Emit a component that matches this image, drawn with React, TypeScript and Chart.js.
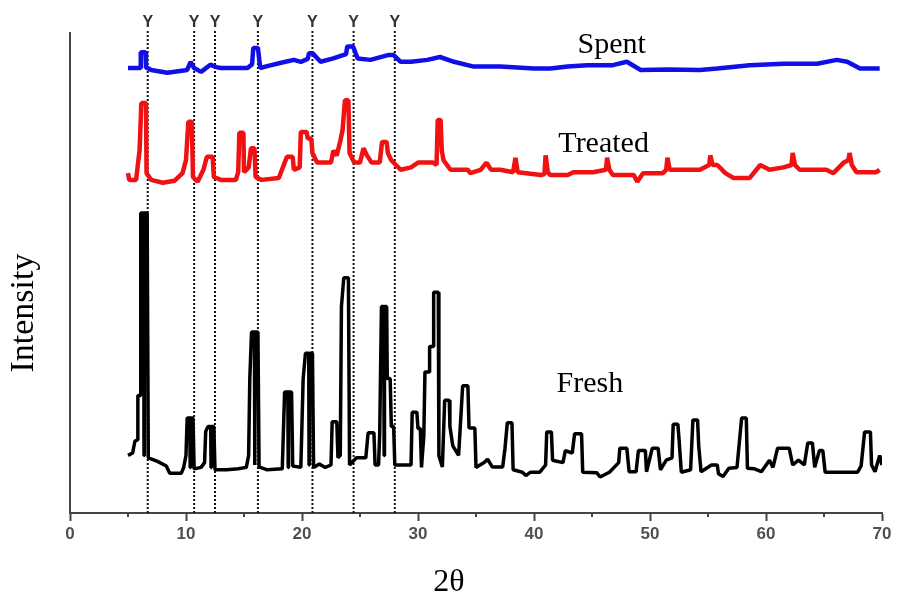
import React, { useEffect, useRef } from 'react';
import { Chart, registerables } from 'chart.js';

Chart.register(...registerables);

// ---- Data (2θ in degrees, intensity in arbitrary offset units) ----
const freshTheta = [
  5.0, 5.4, 5.6, 5.8, 5.85, 6.05, 6.1, 6.35, 6.38, 6.41, 6.65, 6.75, 7.5, 8.3, 8.6, 9.6, 9.8, 10.0, 10.1,
  10.33, 10.36, 10.39, 10.6, 10.7, 11.3, 11.6, 11.7, 11.9, 12.13, 12.16, 12.19, 12.4, 12.5, 13.5, 14.5,
  15.2, 15.4, 15.5, 15.65, 15.9, 15.93, 15.96, 16.2, 16.3, 17.0, 18.3, 18.5, 18.78, 18.81, 18.84, 19.1,
  19.2, 19.9, 20.1, 20.3, 20.58, 20.61, 20.64, 20.9, 21.0, 21.5, 22.0, 22.5, 22.6, 23.0, 23.1, 23.3,
  23.4, 23.6, 24.0, 24.1, 24.7, 25.5, 25.7, 26.2, 26.3, 26.6, 26.7, 26.85, 27.05, 27.08, 27.11, 27.3,
  27.35, 27.6, 27.7, 27.9, 28.0, 29.4, 29.5, 29.9, 30.0, 30.2, 30.3, 30.5, 30.6, 30.95, 31.0, 31.3,
  31.35, 31.75, 31.8, 32.1, 32.3, 32.7, 32.75, 33.0, 33.5, 33.85, 34.3, 34.4, 34.9, 35.0, 35.7, 36.0,
  36.4, 37.3, 37.5, 37.7, 38.1, 38.2, 39.0, 39.3, 39.7, 40.5, 41.0, 41.1, 41.5, 41.6, 42.5, 42.7,
  43.3, 43.5, 44.1, 44.2, 45.4, 45.7, 46.5, 47.3, 47.4, 48.0, 48.2, 48.8, 49.0, 49.6, 49.7, 50.2,
  50.7, 50.9, 51.4, 51.9, 52.0, 52.4, 52.5, 52.7, 53.5, 53.7, 54.1, 54.2, 54.4, 55.3, 55.8, 55.9,
  56.3, 56.8, 57.5, 57.9, 58.3, 58.4, 59.0, 59.6, 60.3, 60.6, 61.0, 62.0, 62.3, 62.8, 63.3, 63.6,
  64.0, 64.2, 64.6, 64.9, 65.1, 67.9, 68.2, 68.5, 69.0, 69.1, 69.4, 69.8, 70.0,
];
const freshIntensity = [
  12.0, 12.5, 15.0, 15.2, 24.5, 24.5, 62.5, 62.5, 12.0, 62.5, 62.5, 11.5, 10.8, 9.8, 8.3, 8.3, 9.5, 12.0, 19.8,
  19.8, 9.5, 19.8, 19.8, 9.2, 9.5, 10.5, 17.0, 18.0, 18.0, 9.5, 18.0, 18.0, 9.0, 9.0, 9.2,
  9.5, 12.0, 28.0, 37.7, 37.7, 10.0, 37.7, 37.7, 9.6, 9.0, 9.2, 25.2, 25.2, 9.5, 25.2, 25.2,
  9.8, 9.5, 28.0, 33.3, 33.3, 10.0, 33.3, 33.3, 9.5, 10.2, 9.5, 10.0, 19.0, 19.0, 11.5, 12.0,
  43.0, 49.0, 49.0, 10.0, 11.5, 11.5, 16.7, 16.7, 10.0, 10.0, 16.7, 43.0, 43.0, 12.0, 43.0, 43.0,
  28.0, 28.0, 18.0, 18.0, 10.0, 10.0, 21.0, 21.0, 17.6, 17.6, 9.5, 16.0, 29.4, 29.4, 34.7, 34.7,
  46.0, 46.0, 12.0, 9.6, 23.5, 23.5, 18.0, 14.0, 12.0, 26.5, 26.5, 17.7, 17.7, 9.5, 10.5, 11.2,
  9.6, 9.6, 13.5, 18.8, 18.8, 9.0, 8.5, 7.8, 8.5, 8.5, 10.0, 16.9, 16.9, 11.0, 10.5, 13.0,
  12.5, 16.5, 16.5, 8.5, 8.4, 7.5, 8.5, 10.5, 13.5, 13.5, 8.6, 8.6, 13.0, 13.0, 8.6, 13.5,
  13.5, 9.0, 11.0, 11.5, 18.5, 18.5, 15.5, 8.5, 9.0, 19.4, 19.4, 14.0, 8.6, 10.0, 10.0, 8.2,
  7.6, 9.3, 9.5, 19.8, 19.8, 9.3, 9.2, 8.6, 11.0, 9.5, 13.5, 13.5, 10.0, 11.0, 10.0, 14.6,
  14.6, 9.5, 13.0, 13.0, 8.5, 8.5, 9.8, 16.9, 16.9, 10.0, 8.6, 12.0, 10.0,
];

const treatedTheta = [
  5.0, 5.1, 5.7, 5.8, 6.0, 6.15, 6.55, 6.6, 7.0, 8.0, 9.0, 9.7, 10.0, 10.2, 10.5, 10.6, 11.0, 11.5,
  11.8, 12.3, 12.4, 13.0, 14.3, 14.5, 14.6, 14.95, 15.0, 15.4, 15.6, 15.9, 16.0, 16.5, 18.0, 18.7,
  19.2, 19.3, 19.8, 19.9, 20.4, 20.5, 20.8, 20.9, 21.3, 22.5, 22.7, 23.0, 23.3, 23.5, 23.7, 24.0,
  24.1, 24.5, 25.0, 25.3, 25.6, 26.0, 26.7, 26.9, 27.3, 27.4, 27.7, 28.5, 29.4, 30.0, 31.3, 31.6,
  31.7, 31.95, 32.05, 32.2, 32.8, 34.3, 34.5, 35.4, 35.9, 36.3, 37.1, 38.2, 38.4, 38.6, 40.6, 40.9,
  41.0, 41.2, 41.4, 42.9, 43.4, 45.1, 46.2, 46.3, 46.5, 46.8, 48.6, 48.9, 49.4, 51.1, 51.4, 51.5,
  51.7, 52.0, 54.3, 55.1, 55.2, 55.4, 55.8, 56.5, 57.2, 58.6, 59.5, 60.3, 61.5, 62.2, 62.3, 62.5,
  62.9, 65.2, 65.8, 66.7, 67.1, 67.2, 67.4, 67.8, 69.5, 69.8,
];
const treatedIntensity = [
  70.8, 69.4, 69.4, 71.5, 75.6, 85.4, 85.4, 70.8, 69.4, 68.8, 69.2, 70.8, 73.5, 81.5, 81.5, 70.0, 69.0, 71.5,
  74.2, 74.2, 70.0, 69.4, 69.4, 71.0, 79.2, 79.2, 71.0, 72.0, 76.0, 76.0, 70.0, 69.4, 69.8, 74.2,
  74.2, 71.5, 72.0, 79.4, 79.4, 78.0, 78.0, 75.0, 73.0, 73.0, 75.5, 74.5, 77.5, 79.8, 86.0, 86.0,
  75.0, 73.0, 73.0, 76.0, 74.5, 73.0, 73.0, 77.3, 77.3, 75.0, 73.5, 71.5, 72.0, 73.0, 73.0, 72.5,
  81.9, 81.9, 75.5, 73.5, 71.5, 71.5, 70.8, 71.5, 73.0, 71.5, 71.5, 71.0, 74.0, 71.0, 70.4, 70.6,
  74.5, 71.0, 70.4, 70.4, 71.0, 71.0, 71.5, 74.0, 71.5, 70.4, 70.4, 69.0, 70.8, 70.8, 71.5, 74.0,
  71.5, 71.5, 71.5, 72.5, 74.5, 72.5, 72.5, 70.8, 69.8, 69.8, 72.5, 71.5, 72.0, 72.5, 75.0, 72.5,
  71.5, 71.5, 70.8, 73.0, 73.5, 75.0, 72.5, 71.0, 71.0, 71.5,
];

const spentTheta = [
  5.0, 6.05, 6.1, 6.5, 6.55, 6.7, 7.0, 8.4, 10.1, 10.4, 10.7, 11.3, 12.1, 12.6, 13.0, 15.3, 15.7,
  15.8, 16.2, 16.4, 17.0, 18.2, 19.3, 19.9, 20.5, 20.6, 20.9, 21.6, 22.7, 23.8, 23.9, 24.4, 24.8,
  25.9, 27.4, 27.9, 28.5, 29.4, 30.8, 31.9, 33.1, 34.8, 37.1, 40.0, 41.4, 42.9, 44.6, 46.8, 48.0,
  49.2, 51.5, 54.3, 55.8, 58.6, 61.5, 64.4, 66.1, 67.0, 68.1, 69.8,
];
const spentIntensity = [
  92.7, 92.7, 96.0, 96.0, 92.7, 92.7, 92.3, 91.7, 92.3, 94.0, 92.7, 91.9, 93.4, 92.9, 92.7, 92.7, 93.5,
  96.9, 96.9, 92.7, 93.1, 93.8, 94.4, 94.0, 94.6, 95.8, 95.8, 94.0, 94.7, 95.6, 97.2, 97.2, 94.7,
  94.4, 95.4, 95.4, 94.0, 94.0, 94.4, 95.0, 94.0, 93.0, 93.0, 92.6, 92.6, 93.0, 93.3, 93.3, 94.0,
  92.3, 92.4, 92.3, 92.6, 93.3, 93.6, 93.6, 94.4, 94.0, 92.6, 92.6,
];

// reference reflections (2θ) marked with "Y"
const markerTheta = [6.7, 10.7, 12.5, 16.2, 20.9, 24.45, 28.0];

const xMin = 0;
const xMax = 70;
const xStep = 5;
const xLabelStep = 10;

const seriesNames = ['Spent', 'Treated', 'Fresh'];

function toPoints(xs: number[], ys: number[]) {
  return xs.map((x, i) => ({ x, y: ys[i] }));
}

const SERIF = '"Liberation Serif", "Times New Roman", serif';

const annotationPlugin = {
  id: 'xrdAnnotations',
  afterDraw(chart: any) {
    const { ctx, scales, chartArea } = chart;
    const x = scales.x;
    const y = scales.y;
    ctx.save();
    // minor (unlabelled) ticks: shorter
    ctx.strokeStyle = '#444';
    ctx.lineWidth = 2;
    for (let v = xMin + xStep; v < xMax; v += xStep) {
      if (v % xLabelStep === 0) continue;
      const px = Math.round(x.getPixelForValue(v));
      ctx.beginPath();
      ctx.moveTo(px, chartArea.bottom);
      ctx.lineTo(px, chartArea.bottom + 4);
      ctx.stroke();
    }
    // Y markers above the reference lines
    ctx.fillStyle = '#333';
    ctx.font = 'bold 16px "Liberation Sans", Arial, sans-serif';
    ctx.textAlign = 'center';
    ctx.textBaseline = 'alphabetic';
    markerTheta.forEach((t) => {
      ctx.fillText('Y', x.getPixelForValue(t), 27);
    });
    // series labels
    ctx.fillStyle = '#000';
    ctx.font = '30px ' + SERIF;
    ctx.textAlign = 'left';
    const labelPos: [number, number][] = [
      [43.75, 95.8],
      [42.1, 75.2],
      [41.95, 25.2],
    ];
    seriesNames.forEach((name, i) => {
      ctx.fillText(name, x.getPixelForValue(labelPos[i][0]), y.getPixelForValue(labelPos[i][1]));
    });
    // axis titles
    ctx.textAlign = 'center';
    ctx.font = '32px ' + SERIF;
    ctx.fillText('2θ', 449, 591);
    ctx.save();
    ctx.translate(33, 313);
    ctx.rotate(-Math.PI / 2);
    ctx.font = '34px ' + SERIF;
    ctx.fillText('Intensity', 0, 0);
    ctx.restore();
    ctx.restore();
  },
};

export default function App() {
  const canvasRef = useRef<HTMLCanvasElement | null>(null);

  useEffect(() => {
    if (!canvasRef.current) return;
    const guideSets = markerTheta.map((t) => ({
      label: 'ref ' + t,
      data: [
        { x: t, y: 0 },
        { x: t, y: 100.6 },
      ],
      borderColor: '#111',
      borderWidth: 2,
      borderDash: [2, 2],
      pointRadius: 0,
      showLine: true,
      clip: false as any,
      order: 10,
    }));
    const chart = new Chart(canvasRef.current, {
      type: 'scatter',
      data: {
        datasets: [
          {
            label: 'Spent',
            data: toPoints(spentTheta, spentIntensity),
            borderColor: '#1010e6',
            borderWidth: 4.5,
            borderJoinStyle: 'bevel',
            pointRadius: 0,
            showLine: true,
            order: 1,
          },
          {
            label: 'Treated',
            data: toPoints(treatedTheta, treatedIntensity),
            borderColor: '#f01212',
            borderWidth: 4.5,
            borderJoinStyle: 'bevel',
            pointRadius: 0,
            showLine: true,
            order: 2,
          },
          {
            label: 'Fresh',
            data: toPoints(freshTheta, freshIntensity),
            borderColor: '#000',
            borderWidth: 3.5,
            borderJoinStyle: 'bevel',
            pointRadius: 0,
            showLine: true,
            order: 3,
          },
          ...guideSets,
        ] as any,
      },
      options: {
        animation: false,
        responsive: true,
        maintainAspectRatio: false,
        layout: { padding: { left: 70, right: 16, top: 33, bottom: 0 } },
        plugins: {
          legend: { display: false },
          tooltip: { enabled: false },
        },
        scales: {
          x: {
            type: 'linear',
            min: xMin,
            max: xMax,
            afterFit: (s: any) => {
              s.height = 81;
            },
            ticks: {
              stepSize: xStep,
              autoSkip: false,
              maxRotation: 0,
              padding: 3,
              color: '#505050',
              font: { family: '"Liberation Sans", Arial, sans-serif', size: 17, weight: 'bold' },
              callback: (v: any) => (Number(v) % xLabelStep === 0 ? String(v) : ''),
            },
            grid: {
              display: true,
              drawOnChartArea: false,
              drawTicks: true,
              tickLength: 8,
              tickWidth: 2,
              tickColor: (c: any) =>
                c.tick && Number(c.tick.value) % xLabelStep === 0 ? '#444' : 'rgba(0,0,0,0)',
            },
            border: { display: true, color: '#444', width: 2 },
          },
          y: {
            type: 'linear',
            min: 0,
            max: 100,
            afterFit: (s: any) => {
              s.width = 0;
            },
            ticks: { display: false },
            grid: { display: true, drawOnChartArea: false, drawTicks: false },
            border: { display: true, color: '#444', width: 2 },
          },
        },
      },
      plugins: [annotationPlugin],
    });
    return () => chart.destroy();
  }, []);

  return (
    <div style={{ position: 'absolute', left: 0, top: 0, width: 898, height: 594, background: '#fff' }}>
      <canvas ref={canvasRef} />
    </div>
  );
}
